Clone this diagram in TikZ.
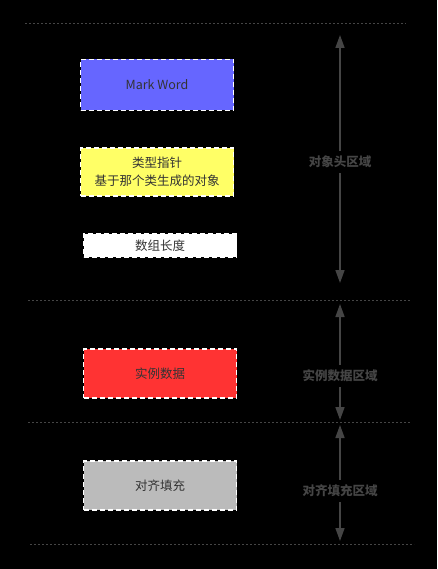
\documentclass[tikz,border=0pt]{standalone}
\usepackage{fontspec}
\setmainfont{Noto Sans CJK SC}
\usetikzlibrary{arrows.meta, positioning}

\definecolor{markblue}{HTML}{6666FF}
\definecolor{klassyellow}{HTML}{FFFF66}
\definecolor{datared}{HTML}{FF3333}
\definecolor{padgray}{HTML}{BBBBBB}
\definecolor{guide}{HTML}{454545}
\definecolor{ink}{HTML}{333333}

\tikzset{
    part/.style = {rectangle, draw=white, dashed, dash pattern=on 5pt off 3pt,
                   line width=1.2pt, minimum width=153pt, text=ink,
                   align=center, font=\fontsize{12.5}{18}\selectfont},
    region/.style = {text=guide, font=\fontsize{12.5}{15}\selectfont\bfseries, inner sep=5pt},
    border/.style = {draw=guide, line width=1pt, dash pattern=on 2pt off 2pt},
    span/.style = {draw=guide, line width=1.6pt,
                   -{Triangle[width=9pt,length=13pt,fill=guide]}}
}

\begin{document}
\begin{tikzpicture}[x=1pt, y=-1pt]
                \fill [black] (0,0) rectangle (437,569);
                \useasboundingbox (0,0) rectangle (437,569);

                % separators
                \coordinate (t0l) at (25,24);  \coordinate (t0r) at (406,24);
                \coordinate (t1l) at (28,300); \coordinate (t1r) at (410,300);
                \coordinate (t2l) at (28,422); \coordinate (t2r) at (410,422);
                \coordinate (t3l) at (30,544); \coordinate (t3r) at (414,544);
                \draw [border] (t0l) -- (t0r);
                \draw [border] (t1l) -- (t1r);
                \draw [border] (t2l) -- (t2r);
                \draw [border] (t3l) -- (t3r);

                % object layout
                \node (mark)  [part, fill=markblue, minimum height=51pt] at (157,85) {Mark Word};
                \node (klass) [part, fill=klassyellow, minimum height=48pt] at (157,172)
                    {类型指针\\基于那个类生成的对象};
                \node (len)   [part, fill=white, minimum height=23pt] at (160,245.5) {数组长度};
                \node (data)  [part, fill=datared, minimum height=49pt] at (160,373.5) {实例数据};
                \node (pad)   [part, fill=padgray, minimum height=49pt] at (160,485.5) {对齐填充};

                % regions
                \node (header) [region] at (340,162) {对象头区域};
                \node (inst)   [region] at (340,376) {实例数据区域};
                \node (align)  [region] at (340,491) {对齐填充区域};

                \coordinate (h0) at (340,35);  \coordinate (h1) at (340,283);
                \coordinate (i0) at (340,304); \coordinate (i1) at (340,420);
                \coordinate (a0) at (340,425); \coordinate (a1) at (340,541);

                \draw [span] (header.north) -- (h0);
                \draw [span] (header.south) -- (h1);
                \draw [span] (inst.north) -- (i0);
                \draw [span] (inst.south) -- (i1);
                \draw [span] (align.north) -- (a0);
                \draw [span] (align.south) -- (a1);
            \end{tikzpicture}
\end{document}
